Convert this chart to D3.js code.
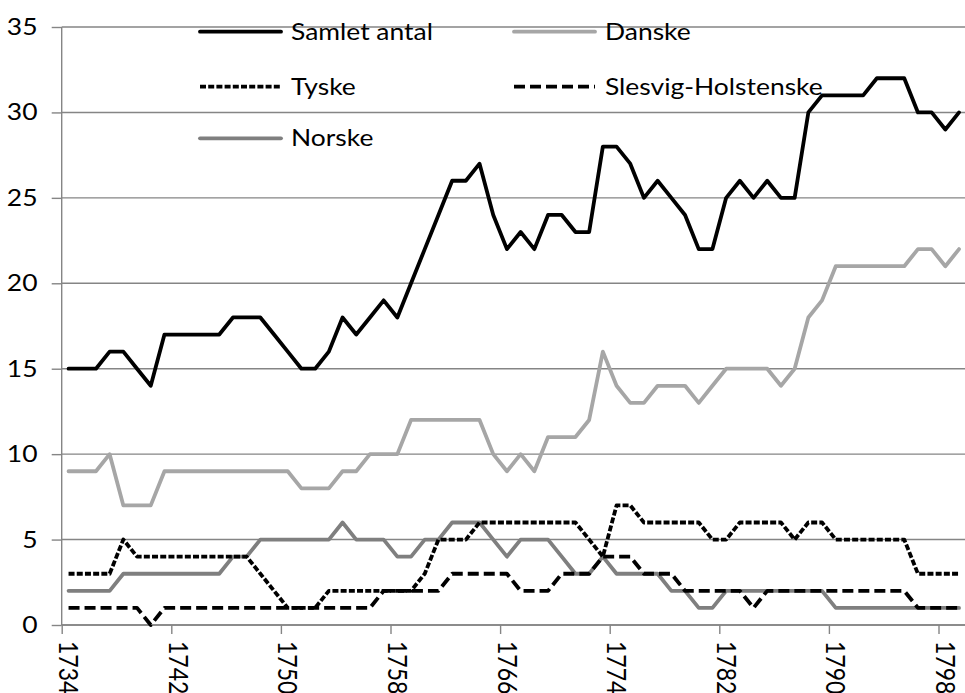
<!DOCTYPE html>
<html><head><meta charset="utf-8">
<script src="https://cdn.jsdelivr.net/npm/d3@7"></script>
<style>html,body{margin:0;padding:0;background:#fff;overflow:hidden}</style>
</head><body><svg id="c" width="965" height="693"></svg>
<script>
const years = [1734,1735,1736,1737,1738,1739,1740,1741,1742,1743,1744,1745,1746,1747,1748,1749,1750,1751,1752,1753,1754,1755,1756,1757,1758,1759,1760,1761,1762,1763,1764,1765,1766,1767,1768,1769,1770,1771,1772,1773,1774,1775,1776,1777,1778,1779,1780,1781,1782,1783,1784,1785,1786,1787,1788,1789,1790,1791,1792,1793,1794,1795,1796,1797,1798,1799];
const samlet = [15,15,15,16,16,15,14,17,17,17,17,17,18,18,18,17,16,
  15,15,16,18,17,18,19,18,20,22,24,26,26,27,24,22,
  23,22,24,24,23,23,28,28,27,25,26,25,24,22,22,25,26,
  25,26,25,25,30,31,31,31,31,32,32,32,30,30,29,30];
const danske = [9,9,9,10,7,7,7,9,9,9,9,9,9,9,9,9,9,
  8,8,8,9,9,10,10,10,12,12,12,12,12,12,10,9,
  10,9,11,11,11,12,16,14,13,13,14,14,14,13,14,15,15,
  15,15,14,15,18,19,21,21,21,21,21,21,22,22,21,22];
const tyske = [3,3,3,3,5,4,4,4,4,4,4,4,4,4,3,2,1,
  1,1,2,2,2,2,2,2,2,3,5,5,5,6,6,6,
  6,6,6,6,6,5,4,7,7,6,6,6,6,6,5,5,6,
  6,6,6,5,6,6,5,5,5,5,5,5,3,3,3,3];
const slesvig = [1,1,1,1,1,1,0,1,1,1,1,1,1,1,1,1,1,
  1,1,1,1,1,1,2,2,2,2,2,3,3,3,3,3,
  2,2,2,3,3,3,4,4,4,3,3,3,2,2,2,2,2,
  1,2,2,2,2,2,2,2,2,2,2,2,1,1,1,1];
const norske = [2,2,2,2,3,3,3,3,3,3,3,3,4,4,5,5,5,
  5,5,5,6,5,5,5,4,4,5,5,6,6,6,5,4,
  5,5,5,4,3,3,4,3,3,3,3,2,2,1,1,2,2,
  2,2,2,2,2,2,1,1,1,1,1,1,1,1,1,1];
const yTicks = [0,5,10,15,20,25,30,35];
const xTickLabels = ["1734","1742","1750","1758","1766","1774","1782","1790","1798"];
const seriesNames = ["Samlet antal","Danske","Tyske","Slesvig-Holstenske","Norske"];

const FONT = "Lato, Carlito, Calibri, 'Open Sans', sans-serif";
const FS = 23, SX = 1.15;
const svg = d3.select("#c");
const left = 61.7, right = left + years.length * 13.7;
const x = d3.scaleLinear().domain([0, years.length]).range([left, right]);
const y = d3.scaleLinear().domain([0, 35]).range([625, 27]);
const gridCol = "#858585";

svg.append("g").selectAll("line").data(yTicks).join("line")
  .attr("x1", left).attr("x2", 965).attr("y1", d => y(d)).attr("y2", d => y(d))
  .attr("stroke", gridCol).attr("stroke-width", 1.4);

const yAxis = svg.append("g").attr("transform", `translate(${left},0)`)
  .call(d3.axisLeft(y).tickValues(yTicks).tickSize(10).tickFormat(""));
yAxis.selectAll("path,line").attr("stroke", gridCol).attr("stroke-width", 1.4);
yAxis.select("path").attr("d", `M0,${y(35)}V${y(0)}`);

const tickIdx = xTickLabels.map(l => years.indexOf(+l));
const xAxis = svg.append("g").attr("transform", `translate(0,${y(0)})`)
  .call(d3.axisBottom(x).tickValues(tickIdx).tickSize(9).tickFormat(""));
xAxis.selectAll("path,line").attr("stroke", gridCol).attr("stroke-width", 1.4);
xAxis.select("path").attr("d", `M${left},0H965`);

function label(tx, ty, s, anchor, rot) {
  svg.append("text")
    .attr("transform", `translate(${tx},${ty}) scale(${SX},1)` + (rot ? ` rotate(${rot})` : ""))
    .attr("text-anchor", anchor).attr("dy", "0.35em")
    .attr("font-family", FONT).attr("font-size", FS).attr("fill", "#000")
    .text(s);
}
yTicks.forEach(v => label(37.5, y(v), String(v), "end"));
xTickLabels.forEach((l, k) => label(x(tickIdx[k] + 0.5), 641, l, "start", 90));

const styles = {
  "Samlet antal": {data: samlet, color: "#000", dash: null, cap: "round"},
  "Danske": {data: danske, color: "#a6a6a6", dash: null, cap: "round"},
  "Norske": {data: norske, color: "#7f7f7f", dash: null, cap: "round"},
  "Tyske": {data: tyske, color: "#000", dash: "6,2.2", cap: "butt"},
  "Slesvig-Holstenske": {data: slesvig, color: "#000", dash: "11,5", cap: "butt"}
};
const line = d3.line().x((d, i) => x(i + 0.5)).y(d => y(d));
["Samlet antal","Danske","Norske","Tyske","Slesvig-Holstenske"].forEach(n => {
  const s = styles[n];
  svg.append("path").datum(s.data).attr("d", line)
    .attr("fill", "none").attr("stroke", s.color).attr("stroke-width", 3.8)
    .attr("stroke-linejoin", "round").attr("stroke-linecap", s.cap)
    .attr("stroke-dasharray", s.dash);
});

const legPos = [[200, 31.7], [514, 31.7], [200, 86.7], [514, 86.7], [200, 138.3]];
seriesNames.forEach((n, k) => {
  const s = styles[n], p = legPos[k];
  svg.append("line").attr("x1", p[0]).attr("x2", p[0] + 81).attr("y1", p[1]).attr("y2", p[1])
    .attr("stroke", s.color).attr("stroke-width", 3.8).attr("stroke-linecap", s.cap)
    .attr("stroke-dasharray", s.dash);
  label(p[0] + 91, p[1], n, "start");
});
</script></body></html>
